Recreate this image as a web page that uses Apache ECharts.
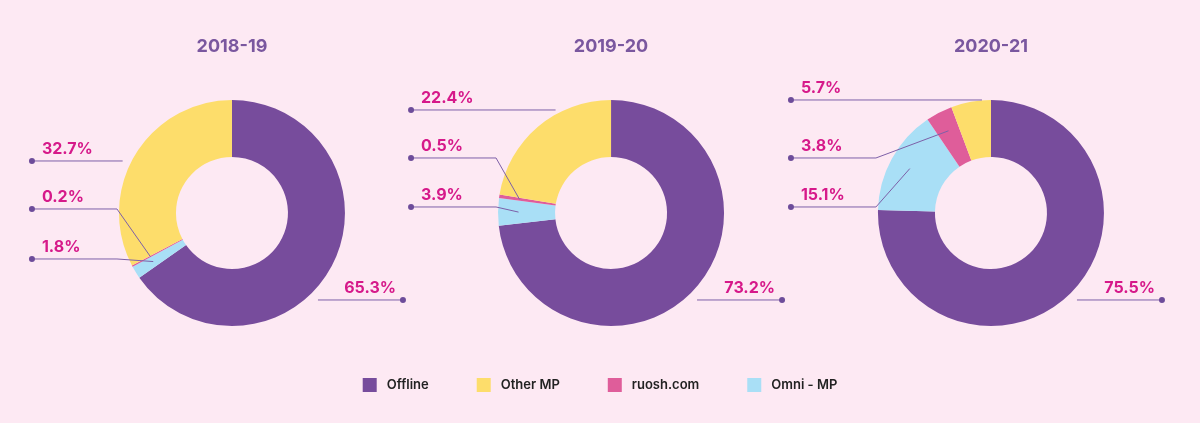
<!DOCTYPE html>
<html lang="en">
<head>
    <meta charset="UTF-8">
    <title>Channel share</title>
    <script src="https://cdn.jsdelivr.net/npm/echarts@6/dist/echarts.min.js"></script>
    <style>
        html, body { margin: 0; padding: 0; background: #fde9f3; }
    </style>
</head>
<body>
<div id="main" style="width: 1200px;height:423px;"></div>

<script type="text/javascript">
    // data, one value per year
    var years = ['2018-19', '2019-20', '2020-21'];
    var names = ['Offline', 'Omni - MP', 'ruosh.com', 'Other MP'];   // clockwise from 12 o'clock
    var legendNames = ['Offline', 'Other MP', 'ruosh.com', 'Omni - MP'];
    var offline = [65.3, 73.2, 75.5];
    var omniMP = [1.8, 3.9, 15.1];
    var ruosh = [0.2, 0.5, 3.8];
    var otherMP = [32.7, 22.4, 5.7];

    // look
    var colors = ['#774c9c', '#a9dff6', '#df5d9a', '#fddd6b'];
    var centersX = [19.33, 50.92, 82.58];   // percent of width
    var centerY = 50.35;                    // percent of height
    var R0 = 56, R1 = 113;
    // left label lines, offset from pie centre (top to bottom)
    var leftRows = [[-52, -4, 46], [-103, -55, -6], [-113, -55, -6]];
    var rowOf = [-1, 2, 1, 0];   // dataIndex -> row on the left

    var myChart = echarts.init(document.getElementById('main'));

    function labelPlace(params) {
        var s = params.seriesIndex - years.length;   // overlay series come after the rings
        var i = params.dataIndex;
        var cx = myChart.getWidth() * centersX[s] / 100;
        var cy = myChart.getHeight() * centerY / 100;
        if (i === 0) {   // Offline on the right
            var yr = cy + 87;
            return {
                x: cx + 174, y: yr + 3, align: 'right', verticalAlign: 'bottom',
                labelLinePoints: [[cx + 86, yr], [cx + 86, yr], [cx + 171, yr]]
            };
        }
        var row = rowOf[i];
        var y = cy + leftRows[s][row];
        var dotX = cx - 200;
        var pts;
        if (row === 0) {
            var h = Math.min(Math.abs(y - cy), R1);
            var ex = cx - Math.sqrt(R1 * R1 - h * h) - 9;
            pts = [[ex, y], [ex, y], [dotX, y]];
        } else {
            // leader starts inside the slice, at its mid angle as laid out by the pie
            var lay = myChart.getModel().getSeriesByIndex(params.seriesIndex).getData().getItemLayout(i);
            var mid = (lay.startAngle + lay.endAngle) / 2;
            var rA = (lay.r + lay.r0) / 2 + 8;
            var ax = lay.cx + rA * Math.cos(mid), ay = lay.cy + rA * Math.sin(mid);
            pts = [[ax, ay], [cx - R1 - 2, y], [dotX, y]];
        }
        return { x: dotX - 3, y: y + 3, align: 'left', verticalAlign: 'bottom', labelLinePoints: pts };
    }

    var title = [], rings = [], overlays = [];
    for (var s = 0; s < years.length; s++) {
        var vals = [offline[s], omniMP[s], ruosh[s], otherMP[s]];
        var data = [], labelData = [];
        for (var k = 0; k < names.length; k++) {
            data.push({ name: names[k], value: vals[k], itemStyle: { color: colors[k] } });
            labelData.push({
                name: names[k], value: vals[k],
                label: {
                    formatter: '{v|{c}%}\n{d| }',
                    rich: {
                        v: {
                            fontFamily: 'Inter', fontSize: 16, fontWeight: 700, color: '#d6198a',
                            lineHeight: 18, padding: k === 0 ? [0, 10, 0, 0] : [0, 0, 0, 13]
                        },
                        d: { width: 6, height: 6, lineHeight: 6, fontSize: 1, borderRadius: 3, backgroundColor: '#6d4c9a' }
                    }
                }
            });
        }
        title.push({
            text: years[s],
            left: centersX[s] + '%',
            top: 38,
            padding: 0,
            textAlign: 'center',
            textStyle: { fontFamily: 'Inter', fontSize: 18, fontWeight: 700, color: '#7a579f' }
        });
        rings.push({
            name: years[s],
            type: 'pie',
            z: 2,
            center: [centersX[s] + '%', centerY + '%'],
            radius: [R0, R1],
            startAngle: 90,
            clockwise: true,
            emphasis: { disabled: true },
            label: { show: false },
            labelLine: { show: false },
            data: data
        });
        // same ring, see-through, only to carry labels and leader lines above the slices
        overlays.push({
            name: years[s] + ' labels',
            type: 'pie',
            z: 3,
            silent: true,
            center: [centersX[s] + '%', centerY + '%'],
            radius: [R0, R1],
            startAngle: 90,
            clockwise: true,
            avoidLabelOverlap: false,
            emphasis: { disabled: true },
            itemStyle: { color: 'rgba(0,0,0,0)' },
            label: { show: true, position: 'outside' },
            labelLine: { show: true, length: 10, length2: 10, lineStyle: { color: '#7d60a8', width: 1 } },
            labelLayout: labelPlace,
            data: labelData
        });
    }

    var option = {
        backgroundColor: '#fde9f3',
        animation: false,
        title: title,
        legend: {
            data: legendNames,
            bottom: 26,
            left: 'center',
            icon: 'rect',
            itemWidth: 14,
            itemHeight: 14,
            itemGap: 48,
            textStyle: { fontFamily: 'Inter', fontSize: 13, fontWeight: 600, color: '#222222', padding: [0, 0, 0, 5] }
        },
        series: rings.concat(overlays)
    };
    myChart.setOption(option);
</script>
</body>
</html>
